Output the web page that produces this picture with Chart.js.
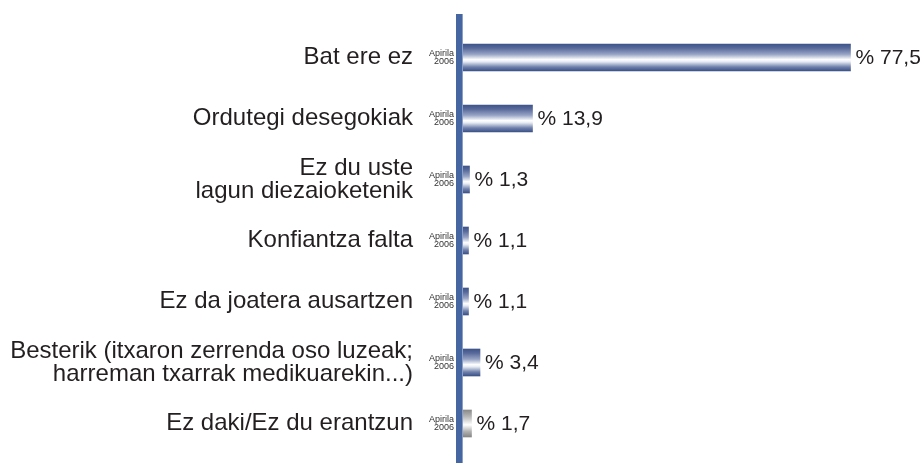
<!DOCTYPE html>
<html>
<head>
<meta charset="utf-8">
<script src="https://cdn.jsdelivr.net/npm/chart.js@4/dist/chart.umd.min.js"></script>
<style>
html,body{margin:0;padding:0;background:#fff;}
#wrap{width:921px;height:463px;position:relative;}
</style>
</head>
<body>
<div id="wrap"><canvas id="c"></canvas></div>
<script>
const categories = [
  ["Bat ere ez"],
  ["Ordutegi desegokiak"],
  ["Ez du uste", "lagun diezaioketenik"],
  ["Konfiantza falta"],
  ["Ez da joatera ausartzen"],
  ["Besterik (itxaron zerrenda oso luzeak;", "harreman txarrak medikuarekin...)"],
  ["Ez daki/Ez du erantzun"]
];
const values = [77.5, 13.9, 1.3, 1.1, 1.1, 3.4, 1.7];
const valueLabels = ["% 77,5", "% 13,9", "% 1,3", "% 1,1", "% 1,1", "% 3,4", "% 1,7"];
const periodLabel = ["Apirila", "2006"];
const greyIndex = 6;

const BAR_T = 27;
const FONT = "'Liberation Sans', Arial, sans-serif";

function barGradient(ctx) {
  const chart = ctx.chart;
  const y = chart.scales.y;
  if (!y) return '#4a5f90';
  const c = y.getPixelForValue(ctx.dataIndex);
  if (!isFinite(c)) return '#4a5f90';
  const top = c - BAR_T / 2, bot = c + BAR_T / 2;
  const g = chart.ctx.createLinearGradient(0, top, 0, bot);
  if (ctx.dataIndex === greyIndex) {
    g.addColorStop(0, '#8a8a8a');
    g.addColorStop(0.25, '#b8b8b8');
    g.addColorStop(0.55, '#ffffff');
    g.addColorStop(0.8, '#b0b0b0');
    g.addColorStop(1, '#858585');
  } else {
    g.addColorStop(0, '#3e5489');
    g.addColorStop(0.15, '#57699a');
    g.addColorStop(0.38, '#97a3c4');
    g.addColorStop(0.58, '#ffffff');
    g.addColorStop(0.66, '#e6eaf3');
    g.addColorStop(0.85, '#6f80ab');
    g.addColorStop(1, '#3b5187');
  }
  return g;
}

const decor = {
  id: 'decor',
  afterDatasetsDraw(chart) {
    const ctx = chart.ctx;
    const x0 = chart.scales.x.getPixelForValue(0);
    ctx.save();
    ctx.fillStyle = '#4566a1';
    ctx.fillRect(x0 - 7, 14, 7, chart.height - 14);
    ctx.fillStyle = '#8aa0c8';
    ctx.fillRect(x0 - 1, 14, 1, chart.height - 14);
    const meta = chart.getDatasetMeta(0);
    meta.data.forEach((bar, i) => {
      ctx.fillStyle = '#333333';
      ctx.font = "9px " + FONT;
      ctx.textAlign = 'right';
      ctx.textBaseline = 'middle';
      ctx.fillText(periodLabel[0], x0 - 9, bar.y - 4);
      ctx.fillText(periodLabel[1], x0 - 9, bar.y + 4);
      ctx.fillStyle = '#231f20';
      ctx.font = "21px " + FONT;
      ctx.textAlign = 'left';
      ctx.fillText(valueLabels[i], bar.x + 5, bar.y + 1);
    });
    ctx.restore();
  }
};

new Chart(document.getElementById('c'), {
  type: 'bar',
  data: {
    labels: categories,
    datasets: [{
      data: values,
      backgroundColor: barGradient,
      borderWidth: 0,
      barThickness: BAR_T
    }]
  },
  options: {
    indexAxis: 'y',
    responsive: true,
    maintainAspectRatio: false,
    animation: false,
    layout: { padding: { top: 27, bottom: 9, right: 8, left: 0 } },
    plugins: { legend: { display: false }, tooltip: { enabled: false } },
    scales: {
      x: { display: false, min: 0, max: 90 },
      y: {
        grid: { display: false, drawTicks: false },
        border: { display: false },
        afterFit(scale) {
          scale.width = 463;
          scale.paddingTop = 0;
          scale.paddingBottom = 0;
        },
        ticks: {
          padding: 50,
          color: '#231f20',
          font: { family: FONT, size: 24, lineHeight: 0.96 }
        }
      }
    }
  },
  plugins: [decor]
});
</script>
</body>
</html>
